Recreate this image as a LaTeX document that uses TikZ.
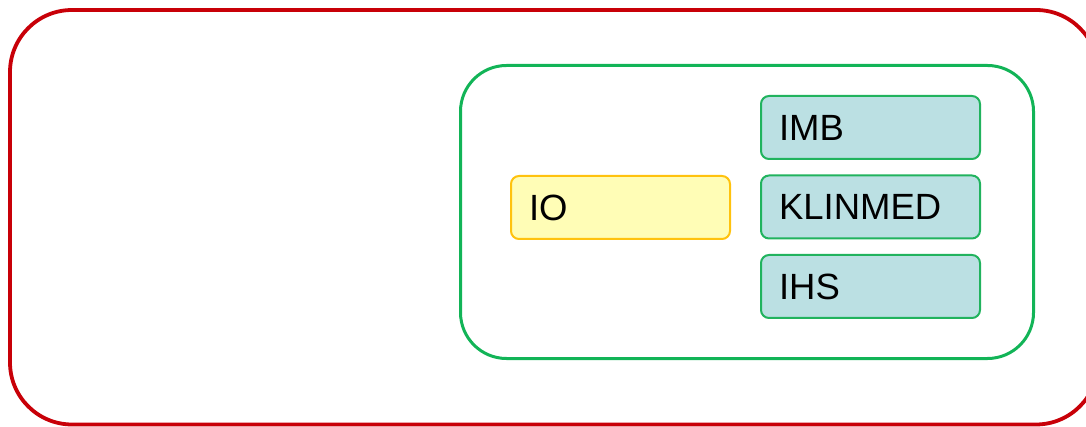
\documentclass[tikz,border=0pt]{standalone}
\usepackage{fontspec}
\setmainfont{Liberation Sans}
\definecolor{redline}{HTML}{C80008}
\definecolor{greenline}{HTML}{12B457}
\definecolor{yelfill}{HTML}{FFFDB6}
\definecolor{yelline}{HTML}{FFC20E}
\definecolor{bluefill}{HTML}{BBE0E3}
\definecolor{boxgreen}{HTML}{21B35E}
\tikzset{
  container/.style={draw, rounded corners=#1, inner sep=0pt},
  item/.style={rounded corners=8pt, line width=2pt, anchor=north west,
    minimum height=63pt, text width=183pt, inner xsep=18pt, inner ysep=0pt,
    align=left, font=\fontsize{36.5}{40}\selectfont},
  yitem/.style={item, draw=yelline, fill=yelfill},
  bitem/.style={item, draw=boxgreen, fill=bluefill}
}
\begin{document}
\begin{tikzpicture}[x=1pt,y=-1pt]
\useasboundingbox (0,0) rectangle (1086,427);
\clip (0,0) rectangle (1086,427);
\draw[redline, line width=3.8pt, rounded corners=62pt] (10,10) rectangle (1098,424.5);
\node[container=46pt, draw=greenline, line width=3pt, anchor=north west,
  minimum width=573pt, minimum height=293pt] (grp) at (459,64) {};
\node[yitem] (io) at (510,175) {IO};
\node[bitem] (imb) at (760,95) {IMB};
\node[bitem] (klin) at (760,174.5) {KLINMED};
\node[bitem] (ihs) at (760,254) {IHS};
\end{tikzpicture}
\end{document}
